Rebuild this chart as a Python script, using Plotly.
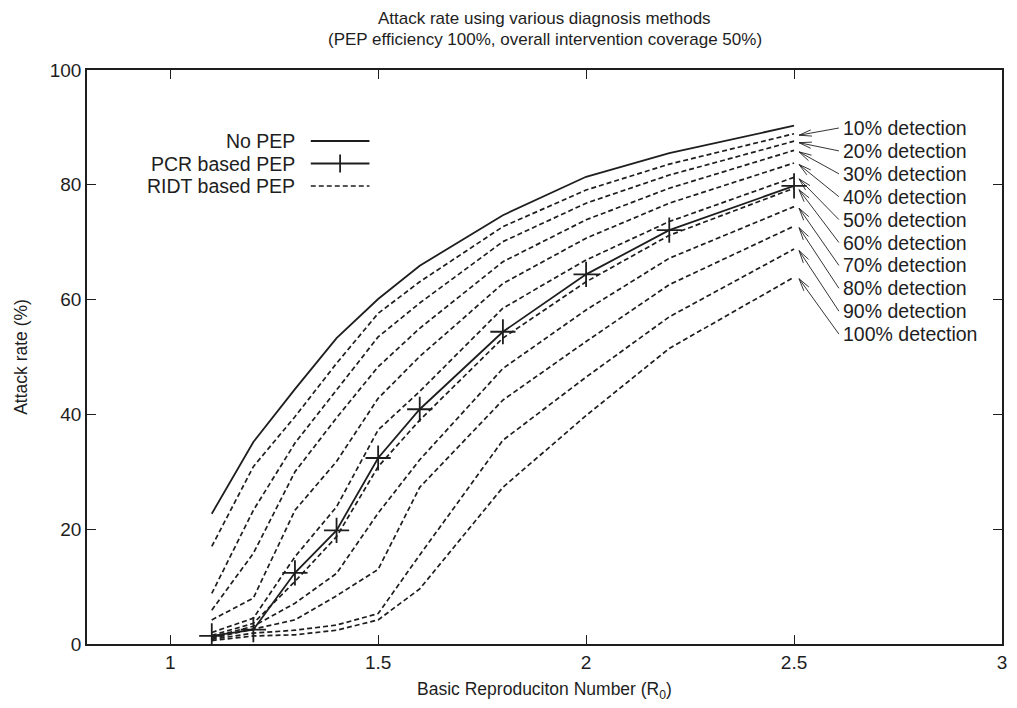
import math
import plotly.graph_objects as go

# ---------------- data ----------------
r0 = [1.1, 1.2, 1.3, 1.4, 1.5, 1.6, 1.8, 2.0, 2.2, 2.5]
no_pep = [22.7, 35.2, 44.4, 53.3, 60.1, 65.9, 74.7, 81.4, 85.5, 90.3]
pcr_pep = [1.4, 2.5, 12.4, 19.8, 32.4, 40.9, 54.4, 64.4, 72.1, 79.8]

ridt_10 = [17.0, 30.9, 39.6, 48.9, 57.6, 63.1, 72.7, 79.1, 83.6, 88.9]
ridt_20 = [8.8, 23.3, 35.0, 44.3, 53.5, 59.4, 70.1, 76.8, 81.7, 87.6]
ridt_30 = [5.9, 15.8, 30.0, 39.4, 48.3, 55.0, 66.6, 73.9, 79.4, 86.0]
ridt_40 = [4.2, 8.0, 23.3, 31.8, 42.8, 50.1, 62.8, 70.7, 76.8, 83.8]
ridt_50 = [2.0, 4.5, 15.2, 23.9, 37.3, 44.0, 58.5, 66.9, 73.6, 81.3]
ridt_60 = [1.5, 3.6, 10.9, 18.7, 30.9, 39.0, 53.3, 63.1, 71.2, 79.4]
ridt_70 = [1.2, 3.1, 7.1, 12.3, 22.8, 32.1, 48.0, 58.2, 67.2, 76.2]
ridt_80 = [1.0, 2.6, 4.2, 8.4, 13.0, 27.3, 42.5, 52.7, 62.6, 72.8]
ridt_90 = [0.8, 1.9, 2.4, 3.3, 5.3, 15.5, 35.5, 46.5, 57.0, 68.8]
ridt_100 = [0.6, 1.4, 1.6, 2.4, 4.2, 9.6, 27.3, 39.8, 51.5, 63.9]

ridt_series = [ridt_10, ridt_20, ridt_30, ridt_40, ridt_50,
               ridt_60, ridt_70, ridt_80, ridt_90, ridt_100]
detection_labels = ["10% detection", "20% detection", "30% detection",
                    "40% detection", "50% detection", "60% detection",
                    "70% detection", "80% detection", "90% detection",
                    "100% detection"]

legend_labels = ["No PEP", "PCR based PEP", "RIDT based PEP"]

title_lines = ["Attack rate using various diagnosis methods",
               "(PEP efficiency 100%, overall intervention coverage 50%)"]

x_ticks = [1, 1.5, 2, 2.5, 3]
x_tick_text = ["1", "1.5", "2", "2.5", "3"]
y_ticks = [0, 20, 40, 60, 80, 100]

# ---------------- style ----------------
INK = "#1e1e1e"
FONT = "Liberation Sans, Arial, Helvetica, sans-serif"
DASH = "5px,3px"

W, H = 1017, 708
ML, MR, MT, MB = 87, 10, 70, 64
XR = [0.8, 3.0]
YR = [0, 100]

pw = W - ML - MR
ph = H - MT - MB


def px_to_x(px):
    return XR[0] + (px - ML) / pw * (XR[1] - XR[0])


def py_to_y(py):
    return YR[1] - (py - MT) / ph * (YR[1] - YR[0])


def x_to_px(x):
    return ML + (x - XR[0]) / (XR[1] - XR[0]) * pw


def y_to_py(y):
    return MT + (1 - (y - YR[0]) / (YR[1] - YR[0])) * ph


def cx(px):
    return (px - ML) / pw


def cy(py):
    return 1 - (py - MT) / ph


fig = go.Figure()

fig.add_trace(go.Scatter(x=r0, y=no_pep, mode="lines",
                         line=dict(color=INK, width=1.8), showlegend=False,
                         name=legend_labels[0]))
for s, lab in zip(ridt_series, detection_labels):
    fig.add_trace(go.Scatter(x=r0, y=s, mode="lines",
                             line=dict(color=INK, width=1.7, dash=DASH),
                             showlegend=False, name="RIDT " + lab))
fig.add_trace(go.Scatter(x=r0, y=pcr_pep, mode="lines+markers",
                         line=dict(color=INK, width=1.8),
                         marker=dict(symbol="cross-thin", size=18,
                                     line=dict(color=INK, width=1.8)),
                         showlegend=False, name=legend_labels[1]))

annotations = []
shapes = []

# title (two lines)
for line, ty in zip(title_lines, [18, 40]):
    annotations.append(dict(x=0.5, y=cy(ty), xref="paper", yref="paper",
                            text=line, showarrow=False, xanchor="center",
                            yanchor="middle",
                            font=dict(family=FONT, size=17, color=INK)))

# detection labels with thin open (gnuplot-style) arrows to each RIDT curve end
label_x_px = 845
label_y0_px = 128
label_dy_px = 22.9
HEAD_LEN = 13
HEAD_ANG = math.radians(14)
for i, (s, lab) in enumerate(zip(ridt_series, detection_labels)):
    ty = label_y0_px + i * label_dy_px
    hx = x_to_px(r0[-1]) + 5
    hy = y_to_py(s[-1]) + 1.5
    tx = label_x_px - 2
    dx, dy = tx - hx, ty - hy
    d = math.hypot(dx, dy)
    ux, uy = dx / d, dy / d
    arms = []
    for sgn in (1, -1):
        c, sn = math.cos(sgn * HEAD_ANG), math.sin(sgn * HEAD_ANG)
        ax_ = ux * c - uy * sn
        ay_ = ux * sn + uy * c
        arms.append((hx + HEAD_LEN * ax_, hy + HEAD_LEN * ay_))
    path = (f"M{cx(tx)},{cy(ty)} L{cx(hx)},{cy(hy)} "
            f"M{cx(arms[0][0])},{cy(arms[0][1])} L{cx(hx)},{cy(hy)} "
            f"L{cx(arms[1][0])},{cy(arms[1][1])}")
    shapes.append(dict(type="path", xref="paper", yref="paper", path=path,
                       line=dict(color=INK, width=0.9)))
    annotations.append(dict(
        x=px_to_x(label_x_px), y=py_to_y(ty), xref="x", yref="y",
        text=lab, showarrow=False, xanchor="left", yanchor="middle",
        font=dict(family=FONT, size=19.5, color=INK)))

# manual gnuplot-style key (text right-aligned, sample to its right)
key_text_right = 298
key_rows = [141, 163.5, 186]
key_s0, key_s1 = 312, 371
for lab, ky in zip(legend_labels, key_rows):
    annotations.append(dict(
        x=cx(key_text_right), y=cy(ky), xref="paper", yref="paper",
        text=lab, showarrow=False, xanchor="right", yanchor="middle",
        font=dict(family=FONT, size=19.5, color=INK)))

shapes.append(dict(type="line", xref="paper", yref="paper",
                   x0=cx(key_s0), x1=cx(key_s1), y0=cy(key_rows[0]), y1=cy(key_rows[0]),
                   line=dict(color=INK, width=1.8)))
shapes.append(dict(type="line", xref="paper", yref="paper",
                   x0=cx(key_s0), x1=cx(key_s1), y0=cy(key_rows[1]), y1=cy(key_rows[1]),
                   line=dict(color=INK, width=1.8)))
kmid = (key_s0 + key_s1) / 2
shapes.append(dict(type="line", xref="paper", yref="paper",
                   x0=cx(kmid), x1=cx(kmid), y0=cy(key_rows[1] - 9), y1=cy(key_rows[1] + 9),
                   line=dict(color=INK, width=1.8)))
shapes.append(dict(type="line", xref="paper", yref="paper",
                   x0=cx(key_s0), x1=cx(key_s1), y0=cy(key_rows[2]), y1=cy(key_rows[2]),
                   line=dict(color=INK, width=1.6, dash=DASH)))

fig.update_layout(
    width=W, height=H,
    margin=dict(l=ML, r=MR, t=MT, b=MB, pad=0),
    paper_bgcolor="white", plot_bgcolor="white",
    font=dict(family=FONT, color=INK, size=18),
    xaxis=dict(range=XR, tickvals=x_ticks, ticktext=x_tick_text,
               showgrid=False, zeroline=False, showline=True, linecolor=INK,
               linewidth=1.6, mirror="ticks", ticks="inside", ticklen=9,
               tickwidth=1.3, tickcolor=INK,
               tickfont=dict(family=FONT, size=19, color=INK),
               title=dict(text="Basic Reproduciton Number (R<sub>0</sub>)",
                          standoff=11,
                          font=dict(family=FONT, size=17.5, color=INK))),
    yaxis=dict(range=YR, tickvals=y_ticks,
               showgrid=False, zeroline=False, showline=True, linecolor=INK,
               linewidth=1.6, mirror="ticks", ticks="inside", ticklen=9,
               tickwidth=1.3, tickcolor=INK,
               tickfont=dict(family=FONT, size=19, color=INK),
               title=dict(text="Attack rate (%)", standoff=18,
                          font=dict(family=FONT, size=17.5, color=INK))),
    annotations=annotations,
    shapes=shapes,
    showlegend=False,
)

fig.write_html("out.html")
